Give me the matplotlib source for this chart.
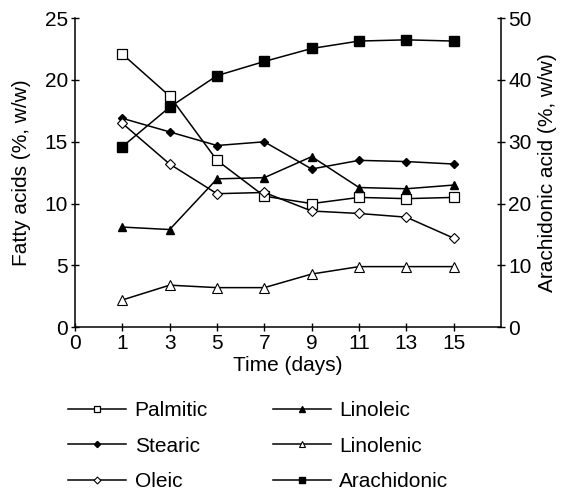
import matplotlib
matplotlib.use("Agg")
import matplotlib.pyplot as plt

plt.rcParams['font.family'] = ['Liberation Sans', 'DejaVu Sans']

tick_labels = ["0", "1", "3", "5", "7", "9", "11", "13", "15"]
days = [1, 3, 5, 7, 9, 11, 13, 15]
palmitic = [22.1, 18.7, 13.5, 10.6, 10.0, 10.5, 10.4, 10.5]
stearic = [16.9, 15.8, 14.7, 15.0, 12.8, 13.5, 13.4, 13.2]
oleic = [16.5, 13.2, 10.8, 10.9, 9.4, 9.2, 8.9, 7.2]
linoleic = [8.1, 7.9, 12.0, 12.1, 13.8, 11.3, 11.2, 11.5]
linolenic = [2.2, 3.4, 3.2, 3.2, 4.3, 4.9, 4.9, 4.9]
arachidonic = [29.2, 35.6, 40.7, 43.0, 45.1, 46.3, 46.5, 46.3]

# categorical positions: tick label index
pos = [tick_labels.index(str(d)) for d in days]

fig = plt.figure(figsize=(5.72, 4.92), dpi=100)
ax = fig.add_axes([0.131, 0.335, 0.745, 0.628])
ax2 = ax.twinx()

lw = 1.1
c = 'black'
ax.plot(pos, palmitic, color=c, lw=lw, marker='s', ms=7, mfc='white', mec=c, mew=0.9, label='Palmitic')
ax.plot(pos, stearic, color=c, lw=lw, marker='D', ms=4.5, mfc=c, mec=c, label='Stearic')
ax.plot(pos, oleic, color=c, lw=lw, marker='D', ms=5, mfc='white', mec=c, mew=0.8, label='Oleic')
ax.plot(pos, linoleic, color=c, lw=lw, marker='^', ms=6, mfc=c, mec=c, label='Linoleic')
ax.plot(pos, linolenic, color=c, lw=lw, marker='^', ms=7, mfc='white', mec=c, mew=0.8, label='Linolenic')
ax2.plot(pos, arachidonic, color=c, lw=lw, marker='s', ms=6.5, mfc=c, mec=c, label='Arachidonic')

ax.set_xlim(0, 9)
ax.set_ylim(0, 25)
ax2.set_ylim(0, 50)
ax.set_xticks(range(len(tick_labels)))
ax.set_xticklabels(tick_labels)
ax.set_yticks([0, 5, 10, 15, 20, 25])
ax2.set_yticks([0, 10, 20, 30, 40, 50])

fs = 15
for a in (ax, ax2):
    a.spines['top'].set_visible(False)
    a.tick_params(direction='inout', length=6, width=1, labelsize=fs, colors='black', pad=2)
ax.spines['right'].set_visible(False)
ax2.spines['left'].set_visible(False)
ax2.spines['bottom'].set_visible(False)
for a in (ax, ax2):
    for s in a.spines.values():
        s.set_linewidth(1.1)

ax.set_xlabel('Time (days)', fontsize=fs, labelpad=2)
ax.set_ylabel('Fatty acids (%, w/w)', fontsize=fs, labelpad=10)
ax2.set_ylabel('Arachidonic acid (%, w/w)', fontsize=fs, labelpad=5)

order = ['Palmitic', 'Stearic', 'Oleic', 'Linoleic', 'Linolenic', 'Arachidonic']
hl = sorted(ax.get_lines() + ax2.get_lines(), key=lambda h: order.index(h.get_label()))
leg = fig.legend(hl, [h.get_label() for h in hl], ncol=2, loc='upper left',
                 bbox_to_anchor=(0.119, 0.184), frameon=False, fontsize=fs,
                 handlelength=2.8, handletextpad=0.4, columnspacing=3.1,
                 labelspacing=0.78, markerscale=0.7, borderaxespad=0, borderpad=0)

fig.savefig('out.png', dpi=100)
